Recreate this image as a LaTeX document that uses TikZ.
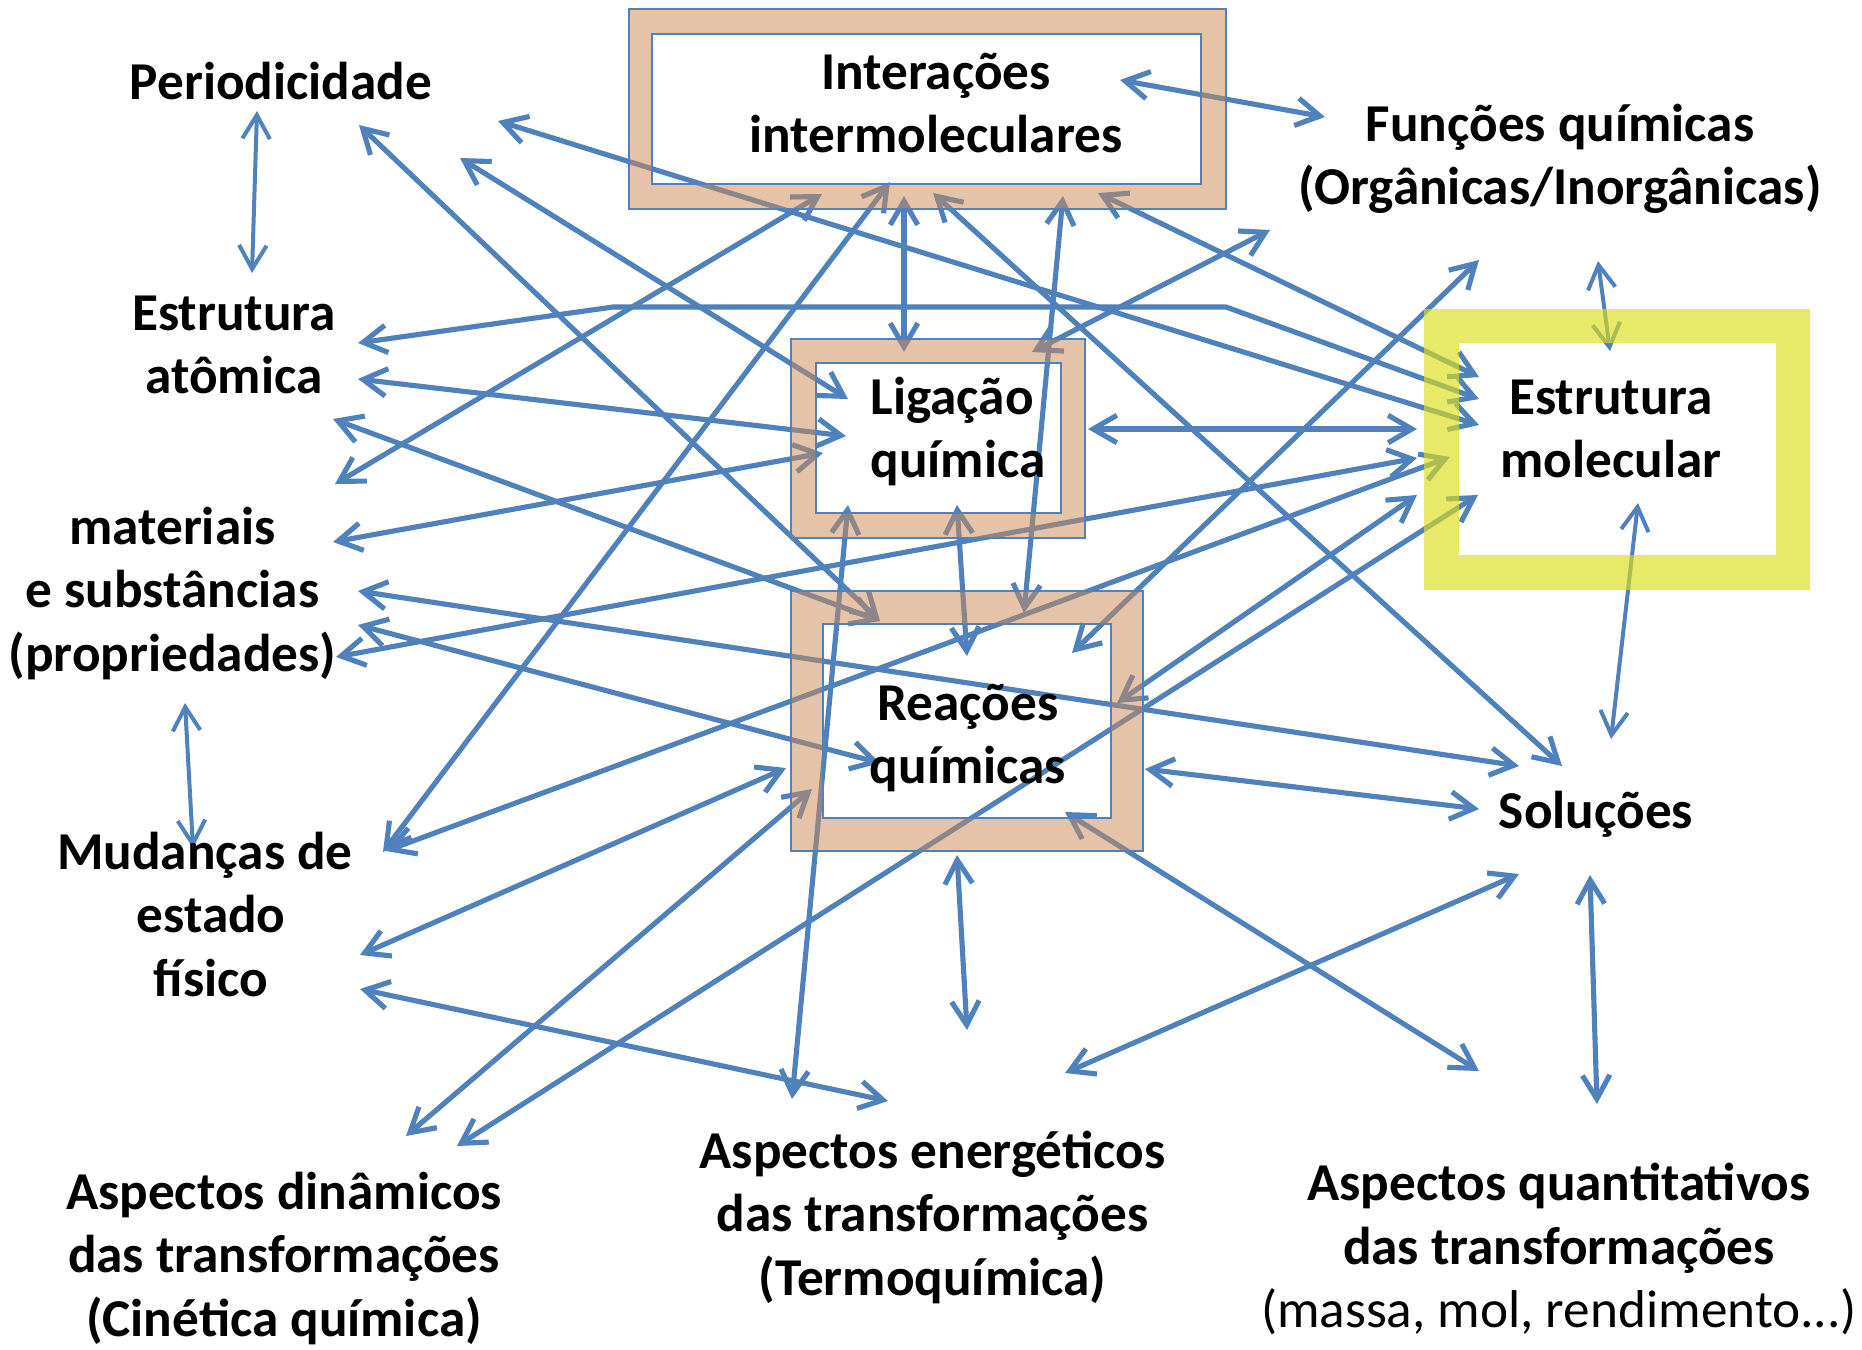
\documentclass[tikz,border=0pt]{standalone}
\usepackage{fontspec}
\setmainfont{Carlito}
\usetikzlibrary{arrows.meta,fit}
\definecolor{lblue}{RGB}{79,129,189}
\definecolor{tanband}{RGB}{203,137,85}
\definecolor{ylw}{RGB}{220,220,26}
\newcommand\mylbl[2][c]{\begin{tabular}[t]{@{}#1@{}}#2\end{tabular}}
\newcommand\cpair[5]{\coordinate (#1a) at (#2,#3);\coordinate (#1b) at (#4,#5);}
\begin{document}
\begin{tikzpicture}[x=0.4pt,y=-0.4pt,
  lnk/.style={draw=lblue, line width=2.05pt, {Straight Barb[length=9.5pt,width=11pt]}-{Straight Barb[length=9.5pt,width=11pt]}},
  thinlnk/.style={lnk, line width=1.6pt},
  lbl/.style={anchor=base, inner sep=0pt, font=\fontsize{21.3}{25.4}\selectfont\bfseries},
  box/.style={inner sep=0pt, outer sep=0pt},
  bord/.style={draw=lblue, line width=1.1pt}]
\fill[white] (0,0) rectangle (1862,1349);
\useasboundingbox (0,0) rectangle (1862,1349);
% frame rectangles (named)
\node[box, fit={(629,9) (1226,209)}] (interO) {};
\node[box, fit={(652,34) (1201,184)}] (interI) {};
\node[box, fit={(791,339) (1085,538)}] (ligO) {};
\node[box, fit={(816,363) (1061,513)}] (ligI) {};
\node[box, fit={(791,591) (1143,851)}] (reaO) {};
\node[box, fit={(823,624) (1111,818)}] (reaI) {};
\node[box, fit={(1424,309) (1810,590)}] (emO) {};
\node[box, fit={(1459,343) (1776,555)}] (emI) {};
% connector end points
\cpair{A1}{257}{111}{252}{273}
\cpair{A2}{359}{125}{880}{621}
\cpair{A3}{358}{343}{1479}{399}
\coordinate (A3m) at (613,307); \coordinate (A3n) at (1226,307);
\cpair{A4}{358}{379}{846}{436}
\cpair{A5}{333}{419}{880}{621}
\cpair{A6}{460}{158}{848}{399}
\cpair{A7}{498}{121}{1479}{425}
\cpair{A8}{335}{484}{822}{194}
\cpair{A9}{333}{542}{823}{453}
\cpair{A10}{336}{657}{1417}{458}
\cpair{A11}{358}{591}{1519}{766}
\cpair{A12}{358}{625}{880}{763}
\cpair{A13}{185}{703}{193}{848}
\cpair{A14}{383}{852}{890}{182}
\cpair{A15}{386}{851}{1450}{457}
\cpair{A16}{360}{955}{786}{768}
\cpair{A17}{360}{989}{888}{1101}
\cpair{A18}{406}{1136}{812}{789}
\cpair{A19}{457}{1146}{1478}{495}
\cpair{A20}{848}{505}{792}{1099}
\cpair{A21}{957}{505}{967}{656}
\cpair{A22}{904}{196}{904}{352}
\cpair{A23}{1063}{196}{1024}{613}
\cpair{A24}{933}{193}{1562}{766}
\cpair{A25}{1098}{193}{1479}{377}
\cpair{A26}{1120}{80}{1325}{117}
\cpair{A27}{1032}{352}{1270}{230}
\cpair{A28}{1072}{653}{1479}{260}
\cpair{A29}{1598}{261}{1610}{351}
\cpair{A30}{1088}{429}{1417}{429}
\cpair{A31}{1117}{703}{1417}{495}
\cpair{A32}{1638}{503}{1611}{739}
\cpair{A33}{1145}{769}{1479}{809}
\cpair{A34}{957}{855}{967}{1030}
\cpair{A35}{1065}{812}{1479}{1071}
\cpair{A36}{1065}{1073}{1519}{874}
\cpair{A37}{1590}{875}{1597}{1104}
% connectors
\draw[thinlnk] (A1a) -- (A1b);
\draw[lnk] (A2a) -- (A2b);
\draw[lnk] (A3a) -- (A3m) -- (A3n) -- (A3b);
\foreach \k in {4,...,12} {\draw[lnk] (A\k a) -- (A\k b);}
\draw[thinlnk] (A13a) -- (A13b);
\foreach \k in {14,...,28} {\draw[lnk] (A\k a) -- (A\k b);}
\draw[thinlnk] (A29a) -- (A29b);
\foreach \k in {30,31} {\draw[lnk] (A\k a) -- (A\k b);}
\draw[thinlnk] (A32a) -- (A32b);
\foreach \k in {33,...,37} {\draw[lnk] (A\k a) -- (A\k b);}
% frames
\foreach \o/\i in {interO/interI, ligO/ligI, reaO/reaI}{
  \fill[tanband, fill opacity=0.5, even odd rule] (\o.south west) rectangle (\o.north east) (\i.south west) rectangle (\i.north east);
  \draw[bord] (\o.south west) rectangle (\o.north east);
  \draw[bord] (\i.south west) rectangle (\i.north east);
}
\fill[ylw, fill opacity=0.65, even odd rule] (emO.south west) rectangle (emO.north east) (emI.south west) rectangle (emI.north east);
% labels
\node[lbl] (period) at (281,99) {Periodicidade};
\node[lbl] (estat) at (234,330) {\mylbl{Estrutura\\atômica}};
\node[lbl] (mat) at (172.5,544) {\mylbl{materiais\\e substâncias\\(propriedades)}};
\node[lbl] (mud) at (211,869) {\mylbl{Mudanças de\kern0.23em\\estado\\físico}};
\node[lbl] (func) at (1560,141) {\mylbl{Funções químicas\\(Orgânicas/Inorgânicas)}};
\node[lbl] (sol) at (1596,828) {Soluções};
\node[lbl] (din) at (284,1209) {\mylbl{Aspectos dinâmicos\\das transformações\\(Cinética química)}};
\node[lbl] (ener) at (932.5,1168) {\mylbl{Aspectos energéticos\\das transformações\\(Termoquímica)}};
\node[lbl] (quant) at (1559,1200.5) {\mylbl{Aspectos quantitativos\\das transformações\\\mdseries (massa, mol, rendimento...)}};
\node[lbl] (intert) at (936,89) {\mylbl{Interações\\intermoleculares}};
\node[lbl, anchor=base west] (ligt) at (870,414) {\mylbl[l]{Ligação\\química}};
\node[lbl] (reat) at (968,720) {\mylbl{Reações\\químicas}};
\node[lbl] (emt) at (1611,414) {\mylbl{Estrutura\\molecular}};
\end{tikzpicture}
\end{document}
